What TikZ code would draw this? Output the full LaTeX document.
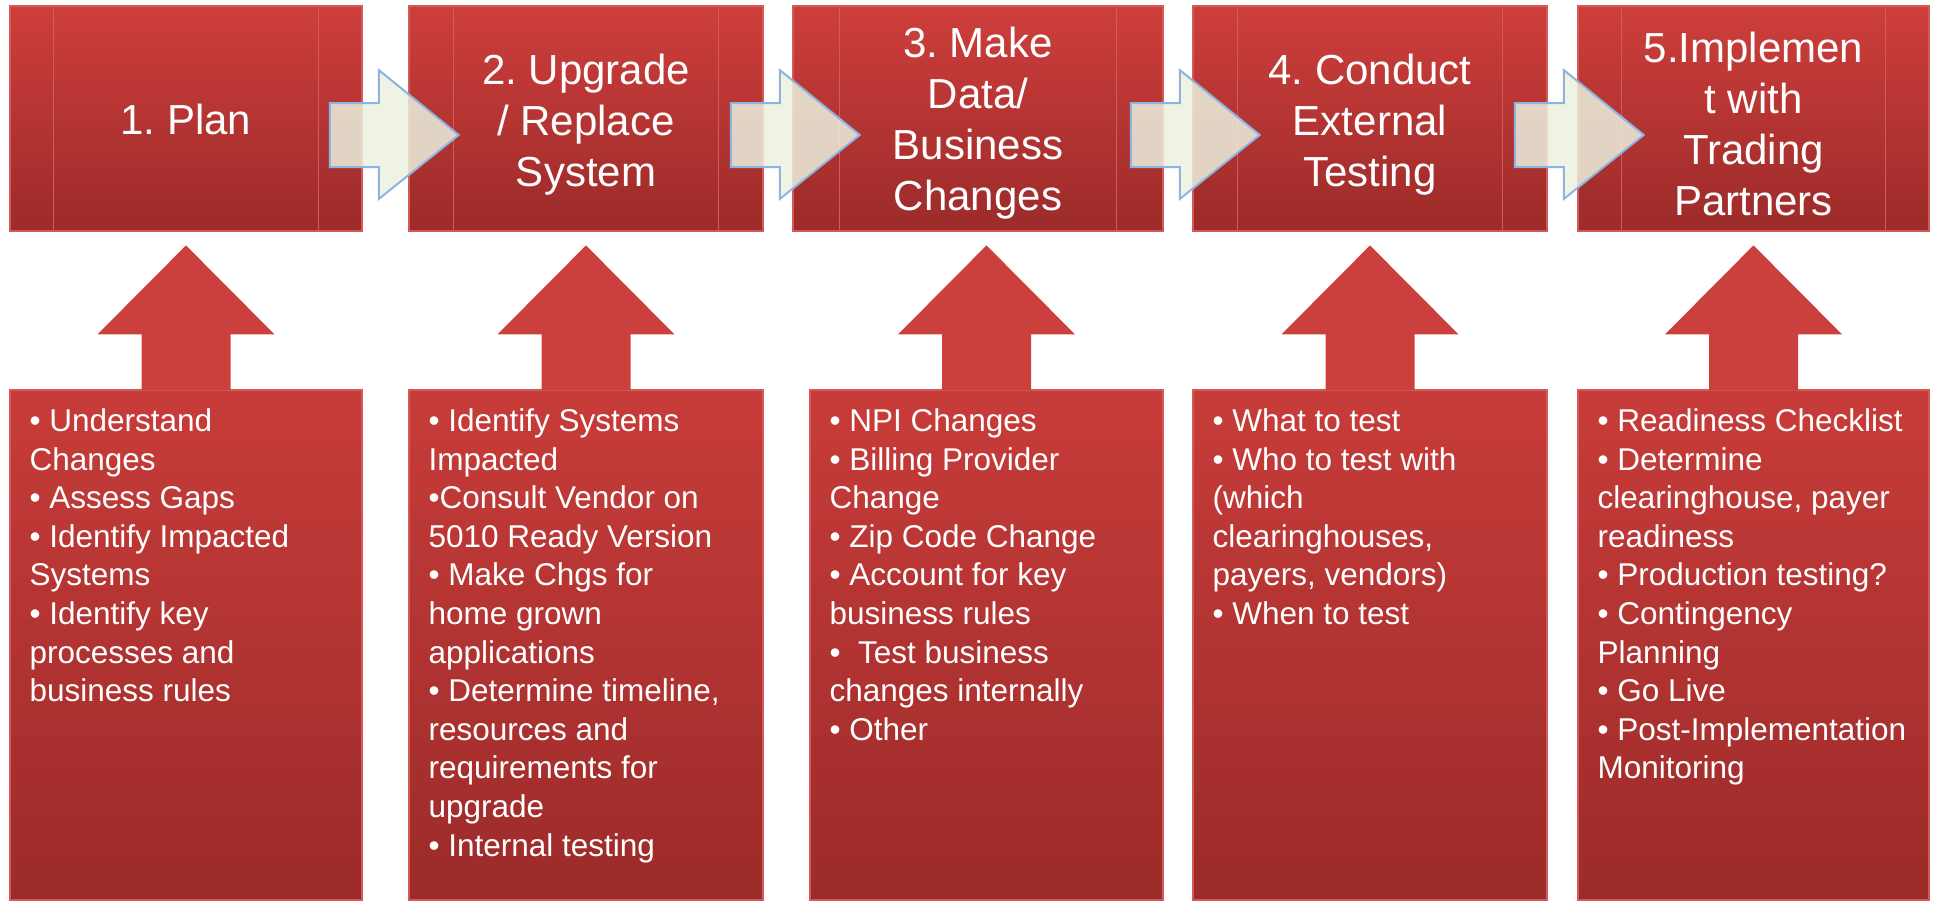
\documentclass[tikz,border=0pt]{standalone}
\usepackage{fontspec}
\setmainfont{Liberation Sans}
\frenchspacing
\usetikzlibrary{calc}
\definecolor{redtop}{RGB}{206,62,59}
\definecolor{redbot}{RGB}{155,43,42}
\definecolor{redline}{RGB}{212,90,90}
\definecolor{uparrowcol}{RGB}{203,64,61}
\definecolor{arrowfill}{RGB}{235,241,222}
\definecolor{arrowedge}{RGB}{141,179,226}
\tikzset{
  stepbox/.style={rectangle, inner sep=0pt, top color=redtop, bottom color=redbot,
    draw=redline, line width=1.5pt, minimum height=225pt},
  steptext/.style={inner sep=0pt, text=white, font=\fontsize{42}{51}\selectfont, align=center},
  detailbox/.style={rectangle, inner sep=0pt, top color=redtop!97!black, bottom color=redbot,
    draw=redline, line width=1.2pt, minimum height=510pt},
  detailtext/.style={anchor=north west, inner sep=0pt, text=white,
    font=\fontsize{31.5}{38.6}\selectfont, align=left},
  flowarrow/.style={fill=arrowfill, fill opacity=0.85, draw=arrowedge, line width=2pt, line join=miter},
  upblock/.style={fill=uparrowcol},
  divider/.style={draw=redline, line width=1pt}
}
\begin{document}
\begin{tikzpicture}[x=1pt,y=-1pt]
\useasboundingbox (0,0) rectangle (1939,900);

% top step boxes
\node[stepbox, minimum width=352pt] (t1) at (186,118.5) {};
\node[stepbox, minimum width=354pt] (t2) at (586,118.5) {};
\node[stepbox, minimum width=370pt] (t3) at (978,118.5) {};
\node[stepbox, minimum width=354pt] (t4) at (1370,118.5) {};
\node[stepbox, minimum width=351pt] (t5) at (1753.5,118.5) {};

\foreach \n/\d in {t1/44,t2/45,t3/47,t4/45,t5/44}{
  \draw[divider] ($(\n.north west)+(\d,0)$) -- ($(\n.south west)+(\d,0)$);
  \draw[divider] ($(\n.north east)+(-\d,0)$) -- ($(\n.south east)+(-\d,0)$);
}

\node[steptext] (s1) at ($(t1.center)+(0,1)$) {1. Plan};
\node[steptext] (s2) at ($(t2.center)+(0,6)$) {2. Upgrade\\/ Replace\\System};
\node[steptext] (s3) at ($(t3.center)+(0,5)$) {3. Make\\Data/\\Business\\Changes};
\node[steptext] (s4) at ($(t4.center)+(0,6)$) {4. Conduct\\External\\Testing};
\node[steptext] (s5) at ($(t5.center)+(0,5.5)$) {5.Implemen\\t with\\Trading\\Partners};

% flow arrows between steps
\foreach \n in {t1,t2,t3,t4}{
  \path[flowarrow] ($(\n.east)+(-33,-15.5)$) -- ($(\n.east)+(16,-15.5)$)
    -- ($(\n.east)+(16,-48.5)$) -- ($(\n.east)+(96,16.5)$)
    -- ($(\n.east)+(16,80.5)$) -- ($(\n.east)+(16,48.5)$)
    -- ($(\n.east)+(-33,48.5)$) -- cycle;
}

% detail boxes
\node[detailbox, minimum width=352pt] (b1) at (186,645) {};
\node[detailbox, minimum width=354pt] (b2) at (586,645) {};
\node[detailbox, minimum width=353pt] (b3) at (986.5,645) {};
\node[detailbox, minimum width=354pt] (b4) at (1370,645) {};
\node[detailbox, minimum width=351pt] (b5) at (1753.5,645) {};

% up arrows
\foreach \n in {b1,b2,b3,b4,b5}{
  \fill[upblock] ($(\n.north)+(0,-144)$) -- ($(\n.north)+(88.5,-55)$)
    -- ($(\n.north)+(44.5,-55)$) -- ($(\n.north)+(44.5,1)$)
    -- ($(\n.north)+(-44.5,1)$) -- ($(\n.north)+(-44.5,-55)$)
    -- ($(\n.north)+(-88.5,-55)$) -- cycle;
}

% detail texts
\node[detailtext] (d1) at ($(b1.north west)+(20,19)$) {• Understand\\Changes\\• Assess Gaps\\• Identify Impacted\\Systems\\• Identify key\\processes and\\business rules};
\node[detailtext] (d2) at ($(b2.north west)+(20,19)$) {• Identify Systems\\Impacted\\•Consult Vendor on\\5010 Ready Version\\• Make Chgs for\\home grown\\applications\\• Determine timeline,\\resources and\\requirements for\\upgrade\\• Internal testing};
\node[detailtext] (d3) at ($(b3.north west)+(20,19)$) {• NPI Changes\\• Billing Provider\\Change\\• Zip Code Change\\• Account for key\\business rules\\•\ \ Test business\\changes internally\\• Other};
\node[detailtext] (d4) at ($(b4.north west)+(20,19)$) {• What to test\\• Who to test with\\(which\\clearinghouses,\\payers, vendors)\\• When to test};
\node[detailtext] (d5) at ($(b5.north west)+(20,19)$) {• Readiness Checklist\\• Determine\\clearinghouse, payer\\readiness\\• Production testing?\\• Contingency\\Planning\\• Go Live\\• Post-Implementation\\Monitoring};
\end{tikzpicture}
\end{document}
